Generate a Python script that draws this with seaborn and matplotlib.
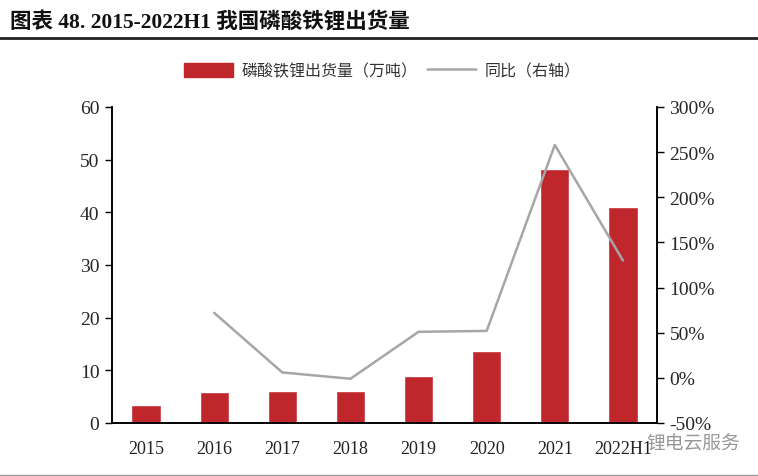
import pandas as pd
import seaborn as sns
import matplotlib.pyplot as plt
from matplotlib.lines import Line2D
from matplotlib.patches import Patch

years = ['2015', '2016', '2017', '2018', '2019', '2020', '2021', '2022H1']
shipments = [3.4, 5.8, 6.1, 6.0, 9.0, 13.6, 48.2, 41.1]
yoy = [None, 72, 6, -1, 51, 52, 258, 130]
left_ticks = [0, 10, 20, 30, 40, 50, 60]
right_ticks = [-50, 0, 50, 100, 150, 200, 250, 300]

BAR_RED = '#c0272d'
LINE_GREY = '#a6a6a6'
CJK = ['Noto Sans CJK SC', 'DejaVu Sans']
LATIN = 'Liberation Serif'

sns.set_style('white')
plt.rcParams['font.family'] = LATIN

df = pd.DataFrame({'year': years, 'shipments': shipments, 'yoy': yoy})

W, H = 758, 477
fig = plt.figure(figsize=(W / 100, H / 100), dpi=100)
ax = fig.add_axes([112 / W, 1 - 424 / H, (657 - 112) / W, (424 - 108) / H])

sns.barplot(data=df, x='year', y='shipments', color=BAR_RED, saturation=1, width=0.43, ax=ax)
ax.set_xlabel('')
ax.set_ylabel('')
ax.set_xlim(-0.5, 7.5)
ax.set_ylim(0, 60)
ax.set_yticks(left_ticks)
ax.tick_params(axis='y', length=5, width=1, color='black', direction='out', labelsize=14, pad=4)
ax.tick_params(axis='x', length=0, labelsize=13, pad=12, labelcolor='#222222')

ax2 = ax.twinx()
sns.lineplot(data=df, x='year', y='yoy', color=LINE_GREY, lw=1.8, errorbar=None, ax=ax2)
ax2.set_ylabel('')
ax2.set_xlabel('')
ax2.set_ylim(-50, 300)
ax2.set_yticks(right_ticks)
ax2.set_yticklabels([f'{t}%' for t in right_ticks])
ax2.tick_params(axis='y', length=5, width=1, color='black', direction='out', labelsize=14, pad=4)

for a in (ax, ax2):
    a.spines['top'].set_visible(False)
    for s in ('left', 'right', 'bottom'):
        a.spines[s].set_color('black')
        a.spines[s].set_linewidth(1.2)

# header
fig.text(10 / W, 1 - 23 / H, '图表 48. 2015-2022H1 我国磷酸铁锂出货量', family=[LATIN] + CJK,
         fontsize=15.5, fontweight='bold', va='center', color='#111111')
fig.add_artist(Line2D([0, 1], [1 - 38.5 / H] * 2, color='#222222', lw=2))
fig.add_artist(Line2D([0, 1], [1 - 476 / H] * 2, color='#999999', lw=1))

handles = [Patch(color=BAR_RED), Line2D([], [], color=LINE_GREY, lw=1.8)]
fig.legend(handles, ['磷酸铁锂出货量（万吨）', '同比（右轴）'], loc='center', ncol=2,
           bbox_to_anchor=(382 / W, 1 - 72 / H), frameon=False, prop={'family': CJK, 'size': 11.5},
           handlelength=3.1, handleheight=1.0, columnspacing=0.6, handletextpad=0.5, labelcolor='#333333')

# watermark
fig.text(646 / W, 1 - 444 / H, '锂电云服务', family=CJK, fontsize=13.5, color='#8c8c8c', va='center', alpha=0.9)

fig.savefig('out.png', dpi=100)
